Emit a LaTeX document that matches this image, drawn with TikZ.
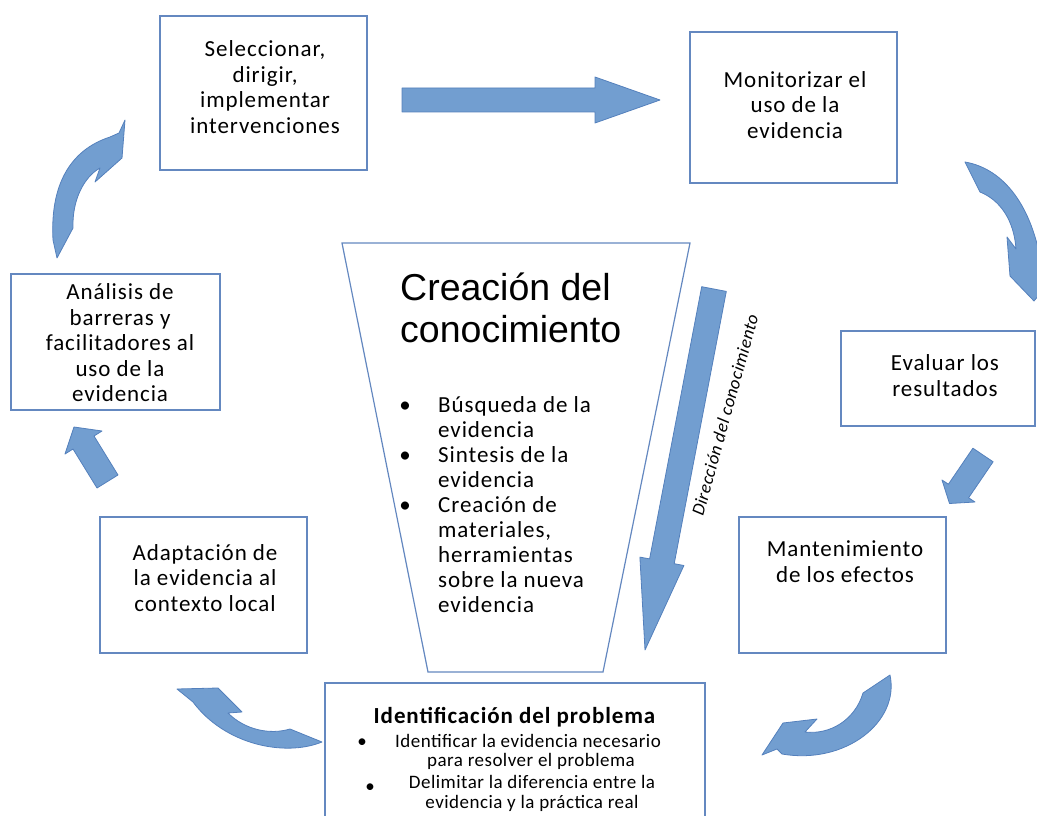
\documentclass[tikz,border=0pt]{standalone}
\usepackage{fontspec}
\setmainfont{Carlito}
\newfontfamily\arialfont{Liberation Sans}
\definecolor{arrowfill}{RGB}{114,158,208}
\definecolor{arrowline}{RGB}{84,128,188}
\definecolor{boxline}{RGB}{100,136,192}
\begin{document}
\begin{tikzpicture}[x=1pt,y=-1pt,
  box/.style={draw=boxline, line width=1.2pt, fill=white, inner sep=0pt},
  txt/.style={align=center, font=\fontsize{23}{25.5}\selectfont\addfontfeature{LetterSpace=4}, inner sep=0pt},
  linetxt/.style={font=\fontsize{23}{25.5}\selectfont\addfontfeature{LetterSpace=4}, inner sep=0pt, anchor=base west},
  smalltxt/.style={font=\fontsize{19}{20}\selectfont\addfontfeature{LetterSpace=2.5}, inner sep=0pt, anchor=base},
  blockarrow/.style={fill=arrowfill, draw=arrowline, line width=0.8pt, line join=round}]
\useasboundingbox (0,0) rectangle (1037,816);

% boxes
\node[box, minimum width=207pt, minimum height=154pt] (b1) at (263.5,93) {};
\node[box, minimum width=207pt, minimum height=151pt] (b2) at (793.5,107.5) {};
\node[box, minimum width=209pt, minimum height=136pt] (b3) at (115.5,342) {};
\node[box, minimum width=194pt, minimum height=95pt] (b4) at (938,378.5) {};
\node[box, minimum width=207pt, minimum height=136pt] (b5) at (203.5,585) {};
\node[box, minimum width=207pt, minimum height=136pt] (b6) at (842.5,585) {};
\node[box, minimum width=380pt, minimum height=160pt] (b7) at (515,763) {};

% funnel
\coordinate (f1) at (342,243);
\coordinate (f2) at (690,243);
\coordinate (f3) at (603,672);
\coordinate (f4) at (428,672);
\draw[box] (f1) -- (f2) -- (f3) -- (f4) -- cycle;

% box texts
\node[txt] (t1) at (265,87) {Seleccionar,\\dirigir,\\implementar\\intervenciones};
\node[txt] (t2) at (795,105) {Monitorizar el\\uso de la\\evidencia};
\node[txt] (t3) at (120,343) {Análisis de\\barreras y\\facilitadores al\\uso de la\\evidencia};
\node[txt] (t4) at (945,375.5) {Evaluar los\\resultados};
\node[txt] (t5) at (205,578) {Adaptación de\\la evidencia al\\contexto local};
\node[txt] (t6) at (845,561.5) {Mantenimiento\\de los efectos};

% bottom box text
\node[font=\bfseries\fontsize{23}{24}\selectfont\addfontfeature{LetterSpace=4}, inner sep=0pt, anchor=base] (h7) at (514.5,723) {Identificación del problema};
\node[smalltxt] (p1) at (528,747) {Identificar la evidencia necesario};
\node[smalltxt] (p2) at (531,766) {para resolver el problema};
\node[smalltxt] (p3) at (532,788) {Delimitar la diferencia entre la};
\node[smalltxt] (p4) at (532,808) {evidencia y la práctica real};
\node[smalltxt] (q1) at (362,747) {•};
\node[smalltxt] (q2) at (370,792) {•};

% funnel title
\node[font=\arialfont\fontsize{37.5}{42}\selectfont, inner sep=0pt, anchor=base west] (cr1) at (400,300) {Creación del};
\node[font=\arialfont\fontsize{37.5}{42}\selectfont, inner sep=0pt, anchor=base west] (cr2) at (400,342) {conocimiento};

% funnel bullets
\foreach \t [count=\i] in {Búsqueda de la, evidencia, Sintesis de la, evidencia, Creación de, {materiales,}, herramientas, sobre la nueva, evidencia}
  \node[linetxt] (fl\i) at (438,{412+25*(\i-1)}) {\t};
\node[linetxt, anchor=base] (fb1) at (405,412) {•};
\node[linetxt, anchor=base] (fb2) at (405,462) {•};
\node[linetxt, anchor=base] (fb3) at (405,512) {•};

% direction label
\node[font=\itshape\fontsize{18}{19}\selectfont\addfontfeature{LetterSpace=3}, inner sep=0pt, rotate=74.5] (dir) at (725,415) {Dirección del conocimiento};

% straight block arrows
\filldraw[blockarrow] (402,88) -- (595,88) -- (595,77) -- (660,100) -- (595,123) -- (595,112) -- (402,112) -- cycle;
\filldraw[blockarrow] (726.3,291.4) -- (701.7,286.7) -- (649.6,558.9) -- (639.9,557.1) -- (645,650) -- (683.9,565.5) -- (674.2,563.7) -- cycle;
\filldraw[blockarrow] (118,475) -- (94,436) -- (102,431) -- (74,427) -- (65,454) -- (73,449) -- (97,488) -- cycle;
\filldraw[blockarrow] (993.1,461.8) -- (972.9,448.2) -- (948.4,484.2) -- (942,480) -- (949.5,503.5) -- (975,502) -- (968.6,497.8) -- cycle;

% curved block arrows
\filldraw[blockarrow] (57,258) -- (53,240) .. controls (50,185) and (70,150) .. (110,137) -- (119,133) -- (125,120) -- (122,158) -- (95,182) -- (100,168) .. controls (84,177) and (72,200) .. (73,228) -- cycle;
\filldraw[blockarrow] (965,162) -- (980,192) .. controls (1000,200) and (1014,220) .. (1016,249) -- (1007,237) -- (1010,276) -- (1034,301) -- (1050,282) -- (1041,262) .. controls (1030,200) and (1000,168) .. (965,162) -- cycle;
\filldraw[blockarrow] (177,689) -- (218,688) -- (242,712) -- (228,713) .. controls (245,730) and (270,735) .. (290,729) -- (322,742) .. controls (285,757) and (225,745) .. (193,702) -- cycle;
\filldraw[blockarrow] (890,675) .. controls (900,722) and (845,765) .. (782,754) -- (777,749) -- (762,755) -- (783,723) -- (817,719) -- (805,732) .. controls (830,735) and (855,720) .. (863,693) -- cycle;
\end{tikzpicture}
\end{document}
